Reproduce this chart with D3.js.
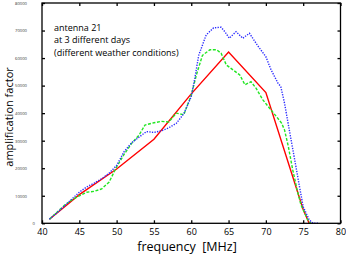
<!DOCTYPE html>
<html>
<head>
<meta charset="utf-8">
<script src="https://cdn.jsdelivr.net/npm/d3@7"></script>
<style>
  body { margin: 0; background: #fff; }
  svg { display: block; }
  .axis path, .axis line { stroke: #000; stroke-width: 1.3px; }
  .axis text { fill: #000; font-family: "Open Sans", sans-serif; }
  .yAxis text { font-size: 4.2px; fill: #333; }
  .xAxis text { font-size: 9px; }
  .label { font-family: "Open Sans", sans-serif; font-size: 12.5px; fill: #000; }
  .yLabel { font-size: 11px; }
  .note { font-family: "Open Sans", sans-serif; font-size: 9px; fill: #000; }
</style>
</head>
<body>
<script>
//data
var xTicks = [40, 45, 50, 55, 60, 65, 70, 75, 80];
var yTicks = [0, 10000, 20000, 30000, 40000, 50000, 60000, 70000, 80000];

//red solid
var redFreq = [41, 45, 50, 55, 60, 65, 70, 75, 75.8];
var redAmp  = [1500, 10400, 19700, 30500, 47000, 62200, 47500, 5000, 0];

//green dashed
var greenFreq = [41, 42, 43, 44, 45, 46, 47, 48, 49, 50, 51, 52, 53, 53.8, 55, 56, 57, 58, 59, 60, 60.7, 61.5, 62.5, 63.4, 64, 64.7, 65.6, 66.5, 67.2, 68, 68.7, 69.6, 70.5, 71.4, 72.1, 72.5, 73, 73.6, 74.2, 74.7, 75.6, 76];
var greenAmp  = [1500, 4000, 6500, 8500, 10000, 11300, 11600, 12500, 15000, 20500, 25000, 29000, 32000, 35700, 36500, 37000, 36800, 40000, 39400, 46500, 54000, 61000, 63000, 63000, 61800, 57500, 55700, 53900, 50300, 51400, 49000, 44800, 41800, 38800, 36400, 33900, 28000, 19400, 12000, 6700, 1300, 0];

//blue dotted
var blueFreq = [41, 42, 43, 44, 45, 46, 47, 48, 49, 50, 51, 52, 53, 54, 55, 56, 57, 58, 59, 60, 60.5, 61, 62, 63, 64, 64.5, 65.1, 66, 66.9, 67.8, 68.9, 70, 70.7, 71.6, 72, 72.5, 73, 74, 74.5, 75, 75.8, 76.3, 77];
var blueAmp  = [1500, 3800, 6300, 8800, 11300, 13200, 14600, 16200, 18200, 21000, 26000, 29200, 31300, 33300, 33000, 33600, 34700, 36300, 39800, 46000, 53000, 61000, 68400, 71000, 71200, 69600, 67200, 69600, 67200, 69000, 64500, 60500, 55700, 51000, 49600, 43600, 36000, 21000, 13400, 6000, 1300, 0, 0];

(function(){
  var width = 346,
      height = 258,
      left = 42,
      right = 340.5,
      top = 3,
      bottom = 223.3;

  var svg = d3.select("body")
      .append("svg")
      .attr("width", width)
      .attr("height", height);

  var x = d3.scaleLinear().domain([40, 80]).range([left, right]);
  var y = d3.scaleLinear().domain([0, 80000]).range([bottom, top]);

  drawAxes(svg, x, y);
  drawLine(svg, x, y, redFreq, redAmp, "#ff0000", null);
  drawLine(svg, x, y, greenFreq, greenAmp, "#22e622", "3,1.6");
  drawLine(svg, x, y, blueFreq, blueAmp, "#2b2bff", "1.3,1.3");

  //frame on top of the lines
  svg.append("rect")
      .attr("x", left)
      .attr("y", top)
      .attr("width", right - left)
      .attr("height", bottom - top)
      .attr("fill", "none")
      .attr("stroke", "#000")
      .attr("stroke-width", 1.3);

  //annotation
  var note = svg.append("text")
      .attr("class", "note")
      .attr("x", 54)
      .attr("y", 30.5);
  ["antenna 21", "at 3 different days", "(different weather conditions)"].forEach(function(s, i){
      note.append("tspan")
          .attr("x", 54)
          .attr("dy", i == 0 ? 0 : 12.8)
          .text(s);
  });

  //axis titles
  svg.append("text")
      .attr("class", "label")
      .attr("x", 187)
      .attr("y", 251)
      .attr("text-anchor", "middle")
      .style("white-space", "pre")
      .text("frequency  [MHz]");

  svg.append("text")
      .attr("class", "label yLabel")
      .attr("transform", "translate(13,117) rotate(-90)")
      .attr("text-anchor", "middle")
      .text("amplification factor");

  function drawAxes(svg, x, y){
      var xAxis = svg.append("g")
          .attr("class", "axis xAxis")
          .attr("transform", "translate(0," + bottom + ")")
          .call(d3.axisBottom(x).tickValues(xTicks).tickSizeInner(-3).tickSizeOuter(0).tickPadding(5));
      xAxis.select(".domain").remove();

      svg.append("g")
          .attr("class", "axis")
          .attr("transform", "translate(0," + top + ")")
          .call(d3.axisTop(x).tickValues(xTicks).tickSizeInner(-3).tickSizeOuter(0).tickFormat(""))
          .select(".domain").remove();

      var yAxis = svg.append("g")
          .attr("class", "axis yAxis")
          .attr("transform", "translate(" + left + ",0)")
          .call(d3.axisLeft(y).tickValues(yTicks).tickFormat(d3.format("d")).tickSizeInner(-3).tickSizeOuter(0).tickPadding(15));
      yAxis.select(".domain").remove();
      //the zero label sits closer to the axis
      yAxis.selectAll(".tick text")
          .attr("x", function(d){ return d == 0 ? -7 : -15; });

      svg.append("g")
          .attr("class", "axis")
          .attr("transform", "translate(" + right + ",0)")
          .call(d3.axisRight(y).tickValues(yTicks).tickSizeInner(-3).tickSizeOuter(0).tickFormat(""))
          .select(".domain").remove();
  };

  function drawLine(svg, x, y, xs, ys, color, dash){
      var pts = d3.zip(xs, ys);
      var line = d3.line()
          .x(function(d){ return x(d[0]); })
          .y(function(d){ return y(d[1]); });
      svg.append("path")
          .datum(pts)
          .attr("d", line)
          .attr("fill", "none")
          .attr("stroke", color)
          .attr("stroke-width", 1.4)
          .attr("stroke-dasharray", dash);
  };
})();
</script>
</body>
</html>
